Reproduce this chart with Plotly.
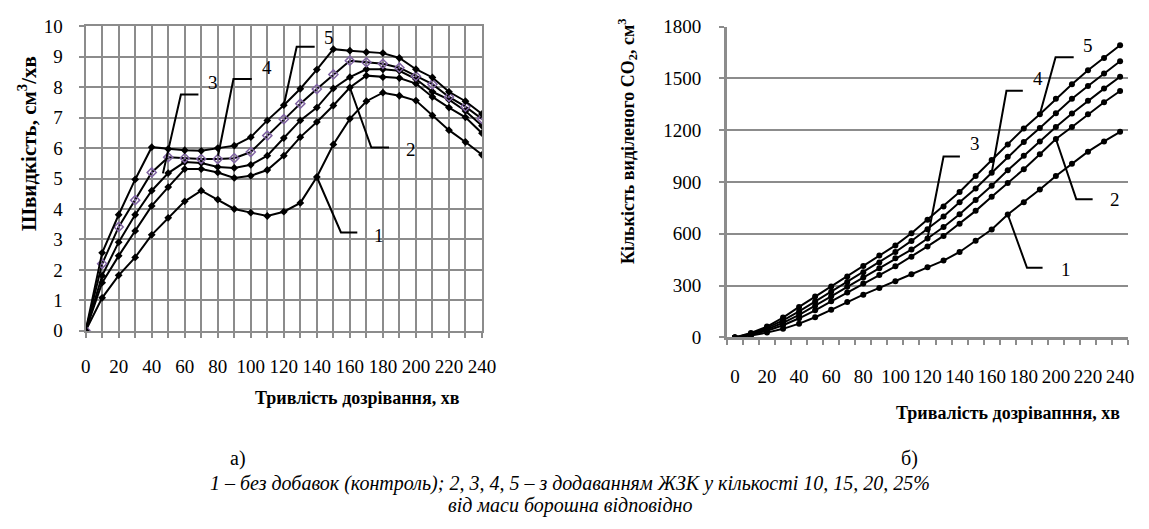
import plotly.graph_objects as go

# ---------------- data ----------------
time_min = list(range(0, 241, 10))

# (a) rate of gas release, cm3/min
rate_1 = [0, 1.08, 1.82, 2.41, 3.15, 3.71, 4.25, 4.60, 4.31, 4.00, 3.88, 3.77, 3.91,
          4.20, 5.05, 6.12, 6.96, 7.54, 7.82, 7.72, 7.56, 7.07, 6.59, 6.20, 5.78]
rate_2 = [0, 1.58, 2.46, 3.28, 4.10, 4.72, 5.31, 5.31, 5.20, 5.02, 5.09, 5.28, 5.75,
          6.36, 6.86, 7.40, 7.99, 8.38, 8.33, 8.30, 8.12, 7.68, 7.33, 7.01, 6.49]
rate_3 = [0, 1.81, 2.91, 3.81, 4.60, 5.18, 5.54, 5.51, 5.38, 5.35, 5.45, 5.75, 6.33,
          6.91, 7.33, 7.96, 8.33, 8.59, 8.59, 8.54, 8.27, 7.85, 7.59, 7.22, 6.73]
rate_4 = [0, 2.20, 3.41, 4.29, 5.20, 5.70, 5.67, 5.64, 5.64, 5.67, 5.87, 6.41, 6.95,
          7.46, 7.94, 8.42, 8.87, 8.82, 8.77, 8.64, 8.36, 8.10, 7.68, 7.36, 6.96]
rate_5 = [0, 2.56, 3.81, 4.97, 6.03, 5.97, 5.93, 5.91, 6.00, 6.08, 6.36, 6.91, 7.41,
          7.95, 8.58, 9.25, 9.20, 9.15, 9.12, 8.96, 8.59, 8.32, 7.85, 7.54, 7.12]

# (b) amount of CO2 released, cm3
co2_1 = [0, 11, 28, 50, 80, 117, 160, 205, 248, 287, 325, 366, 406,
         445, 495, 560, 625, 712, 783, 857, 935, 1006, 1076, 1135, 1191]
co2_2 = [0, 15, 39, 71, 111, 157, 209, 261, 312, 361, 412, 467, 527,
         588, 659, 733, 815, 894, 974, 1061, 1149, 1219, 1293, 1362, 1427]
co2_3 = [0, 18, 47, 85, 131, 183, 238, 293, 347, 401, 458, 509, 573,
         640, 714, 796, 879, 968, 1052, 1135, 1219, 1297, 1371, 1441, 1510]
co2_4 = [0, 22, 56, 99, 151, 208, 265, 321, 377, 434, 495, 559, 627,
         700, 783, 863, 954, 1046, 1132, 1213, 1299, 1382, 1456, 1529, 1599]
co2_5 = [0, 26, 63, 115, 177, 237, 295, 353, 414, 474, 533, 603, 681,
         759, 842, 935, 1028, 1117, 1210, 1293, 1382, 1466, 1547, 1618, 1692]

curve_labels = ["1", "2", "3", "4", "5"]
x_grid_vals = list(range(0, 241, 10))
x_label_vals = list(range(0, 241, 20))
x_label_text = [str(v) for v in x_label_vals]
left_y_ticks = list(range(0, 11, 1))
right_y_ticks = list(range(0, 1801, 300))

left_x_title = "Тривлість дозрівання, хв"
right_x_title = "Тривалість дозрівапння, хв"
left_y_title = "Швидкість, см<sup>3</sup>/хв"
right_y_title = "Кількість виділеного CO<sub>2</sub>, см<sup>3</sup>"
caption_a = "а)"
caption_b = "б)"
caption_1 = "1 – без добавок (контроль); 2, 3, 4, 5 – з додаванням ЖЗК у кількості 10, 15, 20, 25%"
caption_2 = "від маси борошна відповідно"

# ---------------- styling ----------------
W, H = 1149, 529
FONT = "'Liberation Serif', 'Times New Roman', 'DejaVu Serif', serif"
GRID = "#8c8c8c"
PURPLE = "#8064a2"


def px(x):
    return x / W


def py(y):
    return 1 - y / H


fig = go.Figure()

rates = [rate_1, rate_2, rate_3, rate_4, rate_5]
for i, r in enumerate(rates):
    if i == 3:
        marker = dict(symbol="diamond-open-dot", size=7, color=PURPLE, line=dict(width=1.5, color=PURPLE))
    else:
        marker = dict(symbol="diamond", size=6, color="black")
    fig.add_trace(go.Scatter(x=time_min, y=r, mode="lines+markers", name=curve_labels[i],
                             line=dict(color="black", width=2), marker=marker,
                             xaxis="x", yaxis="y", showlegend=False))

co2 = [co2_1, co2_2, co2_3, co2_4, co2_5]
for i, c in enumerate(co2):
    fig.add_trace(go.Scatter(x=time_min, y=c, mode="lines+markers", name=curve_labels[i],
                             line=dict(color="black", width=2),
                             marker=dict(symbol="circle", size=6, color="black"),
                             xaxis="x2", yaxis="y2", showlegend=False))

tickfont = dict(family=FONT, size=19, color="black")

fig.update_layout(
    width=W, height=H, margin=dict(l=0, r=0, t=0, b=0),
    paper_bgcolor="white", plot_bgcolor="white",
    font=dict(family=FONT, color="black"),
    xaxis=dict(domain=[px(82), px(485)], range=[0, 240], tickmode="array",
               tickvals=x_label_vals, ticktext=x_label_text, ticks="outside", ticklen=5,
               tickcolor=GRID, tickwidth=1.5, showgrid=True, gridcolor=GRID, gridwidth=2,
               minor=dict(tickmode="array", tickvals=x_grid_vals, ticks="outside", ticklen=5,
                          tickcolor=GRID, tickwidth=1.5, showgrid=True, gridcolor=GRID, gridwidth=2),
               showline=True, mirror=True, linecolor=GRID, linewidth=2, zeroline=False,
               tickfont=tickfont, ticklabelstandoff=12, anchor="y", fixedrange=True),
    yaxis=dict(domain=[py(334), py(17)], range=[0, 10], tickmode="array",
               tickvals=left_y_ticks, ticks="outside", ticklen=5, tickcolor=GRID, tickwidth=1.5,
               showgrid=True, gridcolor=GRID, gridwidth=2,
               showline=True, mirror=True, linecolor=GRID, linewidth=2, zeroline=False,
               tickfont=tickfont, ticklabelstandoff=12, anchor="x"),
    xaxis2=dict(domain=[px(734), px(1142)], range=[-5, 245], tickmode="array",
                tickvals=x_label_vals, ticktext=x_label_text, ticks="",
                minor=dict(tickmode="array", tickvals=[v - 5 for v in x_grid_vals] + [245],
                           ticks="outside", ticklen=5, tickcolor=GRID, tickwidth=1.5, showgrid=False),
                showgrid=False, showline=True, linecolor=GRID, linewidth=2.5, zeroline=False,
                tickfont=tickfont, ticklabelstandoff=20, anchor="y2"),
    yaxis2=dict(domain=[py(341), py(17.3)], range=[0, 1800], tickmode="array",
                tickvals=right_y_ticks, ticks="outside", ticklen=5, tickcolor=GRID, tickwidth=1.5,
                showgrid=True, gridcolor=GRID, gridwidth=2,
                showline=True, linecolor=GRID, linewidth=2.5, zeroline=False,
                tickfont=tickfont, ticklabelstandoff=14, anchor="x2"),
)

# leader lines (elbow callouts)
left_leaders = [  # (curve x, curve y, elbow x, elbow y, end x, text x, text y)
    (140, 5.05, 154.6, 3.23, 164.5, 177.8, 3.12),
    (160, 7.99, 173.0, 6.02, 183.7, 196.8, 5.96),
    (46.8, 5.17, 57.7, 7.76, 68.3, 77.2, 8.14),
    (80.2, 5.75, 89.5, 8.27, 100.6, 109.9, 8.64),
    (120, 7.41, 127.8, 9.33, 138.7, 147.6, 9.64),
]
right_leaders = [
    (170, 712, 182.0, 403, 191.7, 206.0, 393),
    (200, 1149, 212.7, 801, 222.9, 236.6, 798),
    (120, 573, 130.0, 1048, 140.2, 149.8, 1126),
    (160, 954, 169.2, 1428, 179.4, 188.6, 1497),
    (190, 1293, 199.8, 1622, 211.1, 219.9, 1692),
]
for leaders, xr, yr in [(left_leaders, "x", "y"), (right_leaders, "x2", "y2")]:
    for lab, (cx, cy, ex, ey, hx, tx, ty) in zip(curve_labels, leaders):
        fig.add_shape(type="path", path=f"M {cx},{cy} L {ex},{ey} L {hx},{ey}",
                      xref=xr, yref=yr, line=dict(color="black", width=2))
        fig.add_annotation(x=tx, y=ty, xref=xr, yref=yr, text=lab, showarrow=False,
                           font=dict(family=FONT, size=19, color="black"))


# titles and captions
def text(x, y, t, size=19, bold=False, italic=False, angle=0):
    s = t
    if bold:
        s = f"<b>{s}</b>"
    if italic:
        s = f"<i>{s}</i>"
    fig.add_annotation(x=px(x), y=py(y), xref="paper", yref="paper", text=s, showarrow=False,
                       textangle=angle, xanchor="center", yanchor="middle",
                       font=dict(family=FONT, size=size, color="black"))


text(358, 404, left_x_title, size=18, bold=True)
text(1020, 420, right_x_title, size=18, bold=True)
text(23, 139, left_y_title, size=21, bold=True, angle=-90)
text(633, 137, right_y_title, size=18, bold=True, angle=-90)
text(237, 467, caption_a, size=20)
text(920, 467, caption_b, size=20)
text(575, 493, caption_1, size=20, italic=True)
text(575, 516, caption_2, size=20, italic=True)

fig.write_html("out.html")
